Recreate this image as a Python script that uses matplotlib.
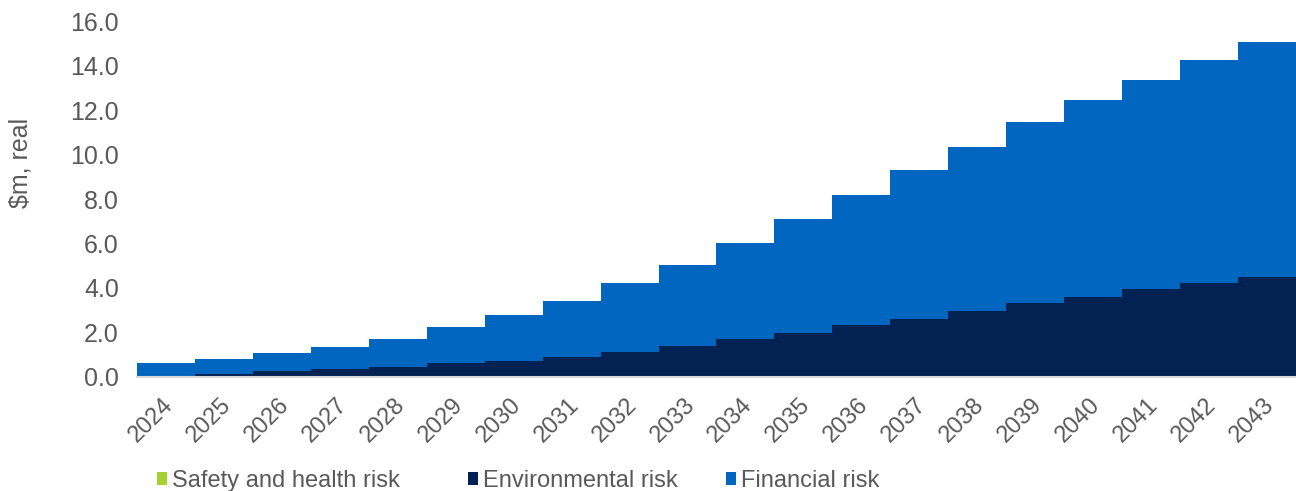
import matplotlib
matplotlib.use("Agg")
import matplotlib.pyplot as plt
import matplotlib.transforms as mtransforms
import numpy as np

plt.rcParams['font.family'] = ['Liberation Sans', 'DejaVu Sans']

years = [str(y) for y in range(2024, 2044)]
safety = [0.0] * 20
environmental = [0.05, 0.15, 0.26, 0.35, 0.44, 0.63, 0.72, 0.88, 1.14, 1.41,
                 1.69, 1.96, 2.32, 2.59, 2.96, 3.31, 3.60, 3.96, 4.21, 4.49]
total = [0.62, 0.79, 1.07, 1.33, 1.69, 2.23, 2.79, 3.40, 4.21, 5.03,
         6.04, 7.11, 8.19, 9.30, 10.35, 11.45, 12.44, 13.33, 14.23, 15.06]
financial = [t - e - s for t, e, s in zip(total, environmental, safety)]

c_safety = '#A5D233'
c_env = '#022253'
c_fin = '#0066BF'
grey = '#595959'

fig = plt.figure(figsize=(12.96, 4.91), dpi=100)
ax = fig.add_axes([0.1057, 0.2322, 0.8943, 0.7250])

x = np.arange(len(years))
ax.bar(x, safety, width=1.0, color=c_safety, label='Safety and health risk')
ax.bar(x, environmental, width=1.0, bottom=safety, color=c_env, label='Environmental risk')
bottom2 = [s + e for s, e in zip(safety, environmental)]
ax.bar(x, financial, width=1.0, bottom=bottom2, color=c_fin, label='Financial risk')

ax.set_xlim(-0.5, 19.5)
ax.set_ylim(0, 16)
yt = np.arange(0, 16.1, 2)
ax.set_yticks(yt)
ax.set_yticklabels([f'{v:.1f}' for v in yt], fontsize=18, color=grey)
ax.set_xticks(x)
ax.set_xticklabels(years, rotation=45, ha='right', rotation_mode='anchor', fontsize=17, color=grey)
ax.tick_params(axis='both', length=0)
ax.tick_params(axis='y', pad=13)
ax.tick_params(axis='x', pad=12)
offset = mtransforms.ScaledTranslation(-4 / 100, 0, fig.dpi_scale_trans)
for lab in ax.get_xticklabels():
    lab.set_transform(lab.get_transform() + offset)
for s in ['top', 'right', 'left']:
    ax.spines[s].set_visible(False)
ax.spines['bottom'].set_color('#D9D9D9')
ax.spines['bottom'].set_linewidth(1.5)
ax.set_ylabel('$m, real', fontsize=18, color=grey)
ax.yaxis.set_label_coords(-0.090, 0.60)

handles, labels = ax.get_legend_handles_labels()
leg_x = [0.121, 0.361, 0.560]
for h, l, lx in zip(handles, labels, leg_x):
    leg = fig.legend([h], [l], loc='center left', bbox_to_anchor=(lx, 0.020), frameon=False,
                     fontsize=17, handlelength=0.45, handleheight=0.45, handletextpad=0.2,
                     borderaxespad=0, borderpad=0)
    for t in leg.get_texts():
        t.set_color(grey)

fig.savefig('out.png', dpi=100)
